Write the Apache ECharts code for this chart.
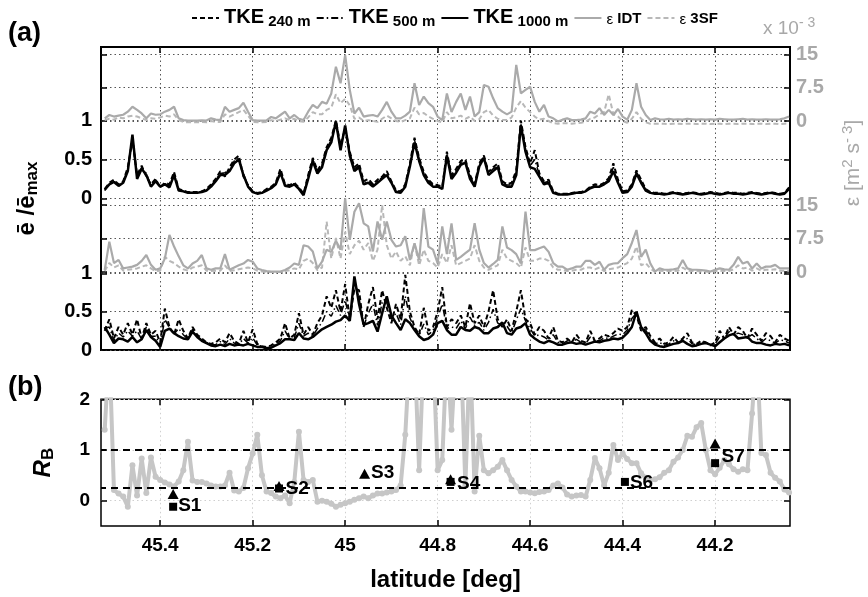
<!DOCTYPE html>
<html><head><meta charset="utf-8">
<script src="https://cdn.jsdelivr.net/npm/echarts@6/dist/echarts.min.js"></script>
<style>html,body{margin:0;padding:0;background:#fff}#c{width:868px;height:597px}</style>
</head><body><div id="c"></div>
<script>
// ---------- DATA ----------
const lat = [
45.52,45.51,45.50,45.49,45.48,45.47,45.46,45.45,45.44,45.43,
45.42,45.41,45.40,45.39,45.38,45.37,45.36,45.35,45.34,45.33,
45.32,45.31,45.30,45.29,45.28,45.27,45.26,45.25,45.24,45.23,
45.22,45.21,45.20,45.19,45.18,45.17,45.16,45.15,45.14,45.13,
45.12,45.11,45.10,45.09,45.08,45.07,45.06,45.05,45.04,45.03,
45.02,45.01,45.00,44.99,44.98,44.97,44.96,44.95,44.94,44.93,
44.92,44.91,44.90,44.89,44.88,44.87,44.86,44.85,44.84,44.83,
44.82,44.81,44.80,44.79,44.78,44.77,44.76,44.75,44.74,44.73,
44.72,44.71,44.70,44.69,44.68,44.67,44.66,44.65,44.64,44.63,
44.62,44.61,44.60,44.59,44.58,44.57,44.56,44.55,44.54,44.53,
44.52,44.51,44.50,44.49,44.48,44.47,44.46,44.45,44.44,44.43,
44.42,44.41,44.40,44.39,44.38,44.37,44.36,44.35,44.34,44.33,
44.32,44.31,44.30,44.29,44.28,44.27,44.26,44.25,44.24,44.23,
44.22,44.21,44.20,44.19,44.18,44.17,44.16,44.15,44.14,44.13,
44.12,44.11,44.10,44.09,44.08,44.07,44.06,44.05,44.04];

const latTicks = [45.4, 45.2, 45, 44.8, 44.6, 44.4, 44.2];
const tkeTicks = [0, 0.5, 1];
const epsTicks = [0, 7.5, 15];
const rbTicks = [0, 1, 2];
const rbThresholds = [1, 0.25];

// upper transect: normalised TKE
const tkeUp240 = [
0.12,0.20,0.24,0.18,0.22,0.40,0.75,0.30,0.42,0.28,
0.18,0.25,0.14,0.20,0.18,0.34,0.12,0.10,0.08,0.08,
0.08,0.09,0.12,0.18,0.25,0.35,0.28,0.40,0.50,0.55,
0.28,0.17,0.09,0.07,0.08,0.12,0.15,0.20,0.38,0.18,
0.17,0.20,0.14,0.06,0.30,0.52,0.36,0.45,0.66,0.78,
1.00,0.68,0.90,0.60,0.40,0.45,0.22,0.25,0.18,0.24,
0.28,0.35,0.22,0.10,0.09,0.18,0.45,0.78,0.52,0.34,
0.24,0.18,0.17,0.15,0.60,0.30,0.38,0.48,0.50,0.30,
0.18,0.45,0.55,0.34,0.40,0.45,0.22,0.18,0.20,0.36,
1.00,0.66,0.45,0.62,0.32,0.22,0.24,0.09,0.06,0.06,
0.06,0.07,0.08,0.08,0.10,0.15,0.18,0.17,0.20,0.26,
0.45,0.24,0.09,0.10,0.18,0.36,0.24,0.12,0.08,0.07,
0.07,0.06,0.07,0.08,0.07,0.06,0.07,0.08,0.07,0.06,
0.07,0.08,0.07,0.06,0.07,0.08,0.07,0.07,0.06,0.07,
0.08,0.07,0.06,0.07,0.08,0.07,0.06,0.07,0.14];
const tkeUp500 = [
0.10,0.19,0.22,0.17,0.21,0.38,0.78,0.28,0.40,0.32,
0.16,0.24,0.16,0.19,0.16,0.32,0.11,0.10,0.08,0.07,
0.08,0.08,0.11,0.16,0.24,0.32,0.33,0.37,0.48,0.52,
0.32,0.16,0.09,0.06,0.07,0.11,0.14,0.19,0.35,0.17,
0.16,0.19,0.13,0.05,0.28,0.50,0.34,0.43,0.64,0.75,
0.97,0.65,0.92,0.58,0.38,0.42,0.20,0.22,0.17,0.22,
0.27,0.32,0.21,0.09,0.08,0.16,0.43,0.75,0.50,0.32,
0.22,0.17,0.16,0.13,0.58,0.28,0.36,0.45,0.48,0.28,
0.17,0.43,0.54,0.32,0.38,0.42,0.20,0.17,0.17,0.33,
0.97,0.63,0.42,0.50,0.30,0.20,0.22,0.08,0.06,0.05,
0.06,0.06,0.07,0.08,0.09,0.14,0.16,0.16,0.19,0.24,
0.40,0.22,0.08,0.09,0.16,0.34,0.22,0.11,0.08,0.06,
0.06,0.06,0.06,0.07,0.06,0.06,0.06,0.07,0.06,0.06,
0.06,0.07,0.06,0.06,0.06,0.07,0.06,0.06,0.06,0.06,
0.07,0.06,0.06,0.06,0.07,0.06,0.06,0.06,0.13];
const tkeUp1000 = [
0.11,0.18,0.21,0.16,0.20,0.35,0.82,0.25,0.38,0.30,
0.15,0.22,0.15,0.18,0.14,0.30,0.10,0.09,0.07,0.07,
0.07,0.08,0.10,0.15,0.22,0.30,0.30,0.35,0.45,0.50,
0.30,0.15,0.08,0.06,0.07,0.10,0.13,0.18,0.33,0.16,
0.15,0.18,0.12,0.04,0.25,0.48,0.32,0.40,0.62,0.72,
0.99,0.62,0.94,0.55,0.35,0.40,0.18,0.20,0.15,0.20,
0.25,0.30,0.20,0.08,0.07,0.15,0.41,0.72,0.48,0.30,
0.20,0.15,0.15,0.12,0.55,0.25,0.33,0.43,0.46,0.25,
0.15,0.41,0.52,0.30,0.35,0.40,0.18,0.15,0.15,0.30,
0.94,0.60,0.40,0.38,0.28,0.18,0.20,0.07,0.05,0.05,
0.05,0.06,0.07,0.07,0.09,0.13,0.15,0.15,0.18,0.22,
0.35,0.20,0.07,0.08,0.15,0.32,0.20,0.10,0.07,0.06,
0.06,0.05,0.06,0.07,0.06,0.05,0.06,0.07,0.06,0.05,
0.06,0.07,0.06,0.05,0.06,0.07,0.06,0.06,0.05,0.06,
0.07,0.06,0.05,0.06,0.07,0.06,0.05,0.06,0.12];
// upper transect: dissipation rate (x 1e-3 m^2 s^-3)
const epsIdtUp = [
0.6,1.35,1.0,1.2,1.4,2.1,3.2,2.5,1.7,0.6,
1.7,1.4,1.5,2.1,2.5,3.2,0.6,0.2,0.1,0.1,
0.1,0.15,0.1,0.6,0.3,0.2,3.2,2.1,2.5,2.9,
4.1,2.1,0.2,0.1,0.1,0.15,0.9,0.6,1.35,2.1,
0.6,1.35,0.5,0.22,2.1,3.6,2.9,4.3,3.9,6.2,
12.2,8.5,14.8,7.0,1.7,3.0,1.0,1.2,1.35,1.0,
2.5,4.3,2.1,0.6,0.6,1.2,2.1,8.5,3.6,5.5,
4.0,3.2,1.0,0.22,6.2,2.0,4.3,6.2,2.5,5.5,
1.0,2.0,8.1,7.7,5.1,2.9,2.1,1.5,2.1,12.6,
6.2,7.0,7.7,4.3,2.1,3.6,1.0,0.6,-0.1,0.3,
0.6,0.2,0.2,0.3,0.6,2.1,1.7,2.9,1.35,2.5,
1.35,2.7,1.0,0.3,2.5,8.5,3.2,1.35,0.2,0.6,
0.4,0.3,0.5,0.3,0.4,0.3,0.5,0.4,0.3,0.4,
0.3,0.4,0.3,0.5,0.4,0.3,0.3,0.4,0.5,0.3,
0.4,0.3,0.3,0.4,0.3,0.3,0.4,0.6,1.0];
const eps3sfUp = [
0.2,0.5,0.3,0.8,0.6,1.0,1.2,1.0,0.6,0.2,
0.6,0.5,0.8,1.2,1.0,1.5,0.2,-0.2,-0.3,-0.3,
-0.3,-0.2,-0.3,0.0,-0.2,-0.2,1.5,1.0,1.5,2.0,
2.5,1.2,-0.2,-0.3,-0.3,-0.2,0.2,0.0,0.3,0.6,
0.2,0.5,0.0,-0.2,0.8,2.0,1.5,1.5,2.5,3.0,
6.0,4.0,5.0,3.5,0.5,0.8,0.0,0.2,0.0,-0.2,
0.5,1.2,0.6,0.0,-0.2,0.2,0.6,3.0,1.5,1.8,
1.0,0.5,0.0,-0.3,2.0,0.6,0.8,1.2,0.5,1.0,
0.0,0.4,2.0,2.5,1.2,0.5,0.3,0.2,0.8,3.0,
4.5,3.0,2.0,1.0,0.3,0.5,0.0,-0.5,-0.6,-0.5,
-0.5,-0.6,-0.5,-0.4,-0.2,0.5,0.8,1.5,2.0,6.0,
1.5,1.0,0.0,-0.4,0.5,2.0,0.5,-0.3,-0.6,-0.6,
-0.6,-0.6,-0.7,-0.6,-0.6,-0.7,-0.6,-0.6,-0.7,-0.6,
-0.6,-0.7,-0.6,-0.6,-0.7,-0.6,-0.6,-0.7,-0.6,-0.6,
-0.7,-0.6,-0.6,-0.7,-0.6,-0.6,-0.7,-0.6,-0.5];

// lower transect: normalised TKE
const tkeLo240 = [
0.25,0.40,0.15,0.30,0.20,0.35,0.20,0.40,0.15,0.35,
0.20,0.25,0.10,0.54,0.30,0.20,0.40,0.25,0.15,0.30,
0.20,0.15,0.10,0.08,0.10,0.15,0.10,0.22,0.12,0.08,
0.25,0.10,0.27,0.08,0.05,0.04,0.06,0.10,0.15,0.35,
0.15,0.20,0.48,0.20,0.30,0.20,0.35,0.45,0.70,0.55,
0.78,0.50,0.86,0.40,0.80,0.78,0.30,0.60,0.82,0.40,
0.78,0.55,0.35,0.60,0.40,0.98,0.50,0.30,0.20,0.55,
0.25,0.30,0.50,0.82,0.30,0.40,0.35,0.45,0.30,0.61,
0.35,0.45,0.30,0.50,0.78,0.40,0.30,0.40,0.25,0.50,
0.78,0.40,0.35,0.20,0.30,0.25,0.15,0.30,0.12,0.10,
0.15,0.10,0.20,0.12,0.10,0.25,0.12,0.15,0.20,0.18,
0.22,0.28,0.25,0.30,0.52,0.45,0.25,0.30,0.18,0.10,
0.15,0.08,0.10,0.17,0.10,0.15,0.22,0.10,0.08,0.12,
0.10,0.06,0.10,0.25,0.15,0.30,0.20,0.30,0.25,0.15,
0.28,0.20,0.12,0.22,0.18,0.10,0.20,0.15,0.12];
const tkeLo500 = [
0.28,0.30,0.12,0.22,0.17,0.25,0.18,0.25,0.14,0.30,
0.18,0.18,0.07,0.40,0.29,0.21,0.28,0.20,0.14,0.27,
0.18,0.13,0.10,0.07,0.07,0.11,0.07,0.15,0.09,0.07,
0.15,0.09,0.16,0.06,0.05,0.03,0.04,0.08,0.12,0.25,
0.14,0.16,0.35,0.18,0.22,0.18,0.28,0.36,0.50,0.44,
0.58,0.45,0.65,0.39,0.88,0.68,0.31,0.48,0.60,0.32,
0.62,0.62,0.40,0.48,0.33,0.70,0.42,0.28,0.19,0.34,
0.20,0.25,0.42,0.60,0.28,0.30,0.28,0.38,0.28,0.43,
0.32,0.36,0.26,0.36,0.53,0.35,0.33,0.31,0.22,0.39,
0.54,0.38,0.28,0.18,0.20,0.17,0.13,0.20,0.10,0.08,
0.12,0.10,0.14,0.10,0.08,0.17,0.12,0.12,0.16,0.15,
0.18,0.21,0.20,0.26,0.41,0.48,0.28,0.26,0.15,0.08,
0.10,0.06,0.08,0.12,0.10,0.13,0.15,0.08,0.07,0.10,
0.10,0.07,0.08,0.17,0.15,0.24,0.20,0.22,0.20,0.16,
0.20,0.15,0.10,0.15,0.12,0.09,0.13,0.12,0.09];
const tkeLo1000 = [
0.30,0.20,0.09,0.15,0.14,0.11,0.17,0.10,0.14,0.26,
0.17,0.12,0.04,0.25,0.28,0.22,0.18,0.15,0.14,0.24,
0.17,0.12,0.09,0.06,0.05,0.07,0.05,0.08,0.06,0.07,
0.06,0.08,0.06,0.04,0.04,0.02,0.03,0.06,0.09,0.14,
0.14,0.13,0.22,0.15,0.14,0.17,0.22,0.27,0.30,0.33,
0.37,0.39,0.45,0.38,0.96,0.60,0.33,0.35,0.38,0.24,
0.48,0.70,0.45,0.35,0.26,0.40,0.35,0.26,0.18,0.13,
0.15,0.20,0.35,0.38,0.26,0.20,0.20,0.30,0.26,0.25,
0.30,0.28,0.22,0.22,0.28,0.30,0.36,0.22,0.20,0.28,
0.30,0.35,0.20,0.15,0.11,0.09,0.12,0.10,0.07,0.07,
0.09,0.10,0.08,0.09,0.07,0.09,0.11,0.10,0.12,0.13,
0.15,0.14,0.16,0.22,0.30,0.50,0.30,0.22,0.12,0.07,
0.05,0.04,0.06,0.08,0.09,0.12,0.08,0.05,0.06,0.08,
0.09,0.07,0.05,0.10,0.15,0.19,0.21,0.15,0.16,0.17,
0.11,0.09,0.09,0.07,0.06,0.08,0.07,0.08,0.06];
// lower transect: dissipation rate (x 1e-3 m^2 s^-3)
const epsIdtLo = [
0.45,6.8,2.0,2.7,0.8,1.0,1.2,1.6,2.5,3.8,
1.6,0.5,0.8,3.0,8.3,5.7,3.5,1.5,0.8,1.9,
2.5,3.8,0.8,0.5,0.8,0.8,4.0,0.5,1.0,1.5,
1.9,2.7,2.3,0.8,0.45,0.2,0.1,0.1,0.1,0.45,
1.0,1.9,1.6,6.0,5.7,4.6,0.8,2.3,5.0,4.5,
7.0,5.0,16.5,7.2,13.5,15.4,10.9,10.2,4.6,11.3,
7.2,11.3,7.2,5.7,6.0,8.0,2.7,6.4,2.7,14.3,
5.7,5.0,1.9,10.2,4.0,10.9,2.7,3.4,4.2,5.0,
10.9,5.0,2.0,1.0,1.8,2.7,10.2,5.5,4.9,4.0,
1.9,13.5,4.9,4.9,5.3,5.7,4.5,2.0,1.2,1.2,
0.5,0.8,1.2,1.2,2.5,2.5,1.6,2.3,0.5,1.6,
1.9,2.0,3.1,4.0,6.5,9.4,3.4,5.0,1.9,0.1,
0.8,0.5,0.5,0.6,0.8,2.7,0.8,0.5,0.5,0.4,
0.3,0.1,0.5,0.8,0.6,0.5,1.6,3.4,1.9,2.3,
0.8,1.9,0.8,1.2,1.2,1.6,0.8,0.8,0.8];
const eps3sfLo = [
0.2,2.0,1.0,1.5,0.3,0.5,0.6,0.8,1.2,1.5,
0.8,0.2,0.3,3.4,2.5,2.0,1.2,0.6,0.3,1.0,
1.2,1.5,0.3,0.2,0.3,0.3,1.5,0.2,0.4,0.6,
0.8,1.0,0.8,0.3,0.1,0.0,0.0,0.0,0.0,0.2,
0.4,0.8,0.6,2.5,3.0,2.0,0.4,1.0,11.3,3.0,
7.6,3.0,9.0,4.0,6.0,7.0,5.0,6.5,2.5,5.0,
15.0,6.0,3.0,4.6,2.5,3.5,1.5,6.4,1.5,5.0,
2.5,2.0,1.0,4.0,2.0,6.0,1.5,2.0,2.5,3.0,
6.0,2.5,1.0,0.5,1.0,1.5,5.0,3.0,2.5,2.0,
1.0,5.5,2.5,2.5,3.0,3.0,2.5,1.0,0.5,0.5,
0.2,0.3,0.5,0.5,1.0,1.0,0.6,1.0,0.2,0.6,
0.8,1.0,1.5,2.0,3.0,5.7,1.5,2.0,0.8,0.0,
0.3,0.2,0.2,0.2,0.3,1.0,0.3,0.2,0.2,0.1,
0.1,0.0,0.2,0.3,0.2,0.2,0.6,1.5,0.8,1.0,
0.3,0.8,0.3,0.5,0.5,0.6,0.3,0.3,0.3];

// panel (b): bulk Richardson number
const rb = [
1.4,3.0,0.21,0.14,0.08,-0.12,0.7,0.1,0.83,0.15,
0.85,0.47,0.41,0.36,0.32,0.28,0.38,0.6,1.16,0.4,
0.37,0.37,0.34,0.3,0.28,0.28,0.3,0.55,0.2,0.18,
0.25,0.64,0.93,1.3,0.5,0.18,0.15,0.08,0.05,0.1,
-0.05,0.37,1.36,0.41,0.37,0.41,-0.02,0.0,-0.02,-0.06,
-0.12,-0.08,-0.05,-0.02,0.02,0.05,0.08,0.05,0.1,0.14,
0.14,0.16,0.18,0.21,0.3,1.3,3.0,3.0,0.6,3.0,
3.0,3.0,0.6,0.8,3.0,1.4,3.0,3.0,0.3,3.0,
0.18,1.28,0.6,0.54,0.6,0.67,0.8,0.6,0.41,0.28,
0.18,0.18,0.16,0.145,0.17,0.18,0.21,0.3,0.34,0.26,
0.12,0.08,0.1,0.11,0.08,0.41,0.84,0.64,0.3,0.55,
1.1,0.8,0.93,0.82,0.74,0.74,0.54,0.45,0.41,0.42,
0.46,0.55,0.6,0.77,0.85,1.0,1.28,1.26,1.45,1.53,
1.0,0.6,0.52,0.65,0.8,0.72,0.62,0.57,0.62,0.6,
1.72,3.0,0.94,0.9,0.55,0.45,0.38,0.22,0.16];

// stations
const siteNames = ['S1','S2','S3','S4','S6','S7'];
const siteLat   = [45.372, 45.143, 44.958, 44.772, 44.395, 44.200];
const siteTri   = [0.13, 0.29, 0.53, 0.42, null, 1.13];
const siteSq    = [-0.12, 0.24, null, 0.37, 0.37, 0.74];

// ---------- CHART ----------
const FONT = '"Liberation Sans", Arial, Helvetica, sans-serif';
const xMin = 44.038, xMax = 45.528;
const L = 101, R = 78;
const chart = echarts.init(document.getElementById('c'));

const tick = (vals) => ({show:true, inside:true, length:6, lineStyle:{color:'#000', width:1.5}, customValues: vals});
const dotGrid = {show:true, lineStyle:{color:'#555', type:[1.5,3], width:1}};
const lightGrid = {show:true, lineStyle:{color:'#cfcfcf', type:[1.5,3], width:1}};
const tkeLabel = {show:true, customValues: tkeTicks, fontSize:20, fontWeight:'bold', color:'#000', fontFamily:FONT, margin:9};
const epsLabel = {show:true, customValues: epsTicks, fontSize:20, fontWeight:'bold', color:'#a8a8a8', fontFamily:FONT, margin:6};

function xAx(gi, extra) {
  return Object.assign({type:'value', gridIndex:gi, min:xMin, max:xMax, inverse:true,
    axisLine:{show:false, onZero:false}, axisLabel:{show:false}, axisTick:{show:false}, splitLine:{show:false}}, extra);
}
function yAx(gi, pos, extra) {
  return Object.assign({type:'value', gridIndex:gi, position:pos,
    axisLine:{show:false, onZero:false}, axisLabel:{show:false}, axisTick:{show:false}, splitLine:{show:false}}, extra);
}
const pair = (arr) => lat.map((x, i) => [x, arr[i]]);

const blk = '#000', gry = '#aaaaaa', gry2 = '#b8b8b8';
const styles = {
  'TKE 240 m':  {color:blk, width:2,   type:[5,3]},
  'TKE 500 m':  {color:blk, width:1.5, type:[7,3,1.5,3]},
  'TKE 1000 m': {color:blk, width:2.5, type:'solid'},
  'ε IDT':      {color:gry, width:2.2, type:'solid'},
  'ε 3SF':      {color:gry2, width:2,  type:[5,3]}
};
function line(name, arr, xi, yi, z) {
  const s = styles[name];
  return {type:'line', name, xAxisIndex:xi, yAxisIndex:yi, data:pair(arr), symbol:'none',
    clip:false, z, lineStyle:{color:s.color, width:s.width, type:s.type}, itemStyle:{color:s.color},
    emphasis:{disabled:true}};
}

const series = [
  line('ε 3SF', eps3sfUp, 2, 1, 2), line('ε IDT', epsIdtUp, 2, 1, 3),
  line('TKE 240 m', tkeUp240, 3, 3, 4), line('TKE 500 m', tkeUp500, 3, 3, 5), line('TKE 1000 m', tkeUp1000, 3, 3, 6),
  line('ε 3SF', eps3sfLo, 4, 5, 2), line('ε IDT', epsIdtLo, 4, 5, 3),
  line('TKE 240 m', tkeLo240, 5, 7, 4), line('TKE 500 m', tkeLo500, 5, 7, 5), line('TKE 1000 m', tkeLo1000, 5, 7, 6),
  {type:'line', name:'RB', xAxisIndex:6, yAxisIndex:9, data:pair(rb), symbol:'circle', symbolSize:6,
   showAllSymbol:true, clip:true, lineStyle:{color:'#c6c6c6', width:4}, itemStyle:{color:'#c6c6c6'},
   emphasis:{disabled:true}, z:2,
   markLine:{silent:true, symbol:['none','none'], label:{show:false}, z:5,
     lineStyle:{color:'#000', type:[7,5], width:2},
     data: rbThresholds.map(v => ({yAxis:v}))}}
];

const lblBase = {show:true, position:'right', distance:1, fontSize:19, fontWeight:'bold', color:'#000', fontFamily:FONT, opacity:1};
const labelOnTri = {S2:[0,3], S3:[0,-1], S4:[0,4], S7:[0,13]};
const labelOnSq = {S1:[0,-1], S6:[0,1]};
series.push({type:'scatter', name:'sq', xAxisIndex:6, yAxisIndex:9, symbol:'rect', symbolSize:8, z:8,
  itemStyle:{color:'#000', opacity:1}, emphasis:{disabled:true},
  data: siteLat.map((x,i) => siteSq[i]==null ? null : ({value:[x, siteSq[i]],
    label: labelOnSq[siteNames[i]] ? Object.assign({}, lblBase, {formatter:siteNames[i], offset:labelOnSq[siteNames[i]]}) : {show:false}})).filter(d=>d)});
series.push({type:'scatter', name:'tri', xAxisIndex:6, yAxisIndex:9, symbol:'triangle', symbolSize:[11,10], z:9,
  itemStyle:{color:'#000', opacity:1}, emphasis:{disabled:true},
  data: siteLat.map((x,i) => siteTri[i]==null ? null : ({value:[x, siteTri[i]],
    label: labelOnTri[siteNames[i]] ? Object.assign({}, lblBase, {formatter:siteNames[i], offset:labelOnTri[siteNames[i]]}) : {show:false}})).filter(d=>d)});

const option = {
  animation:false,
  backgroundColor:'#fff',
  textStyle:{fontFamily:FONT},
  legend:{
    top:2, left:186, itemWidth:27, itemHeight:14, itemGap:5, selectedMode:false,
    itemStyle:{opacity:0},
    data:['TKE 240 m','TKE 500 m','TKE 1000 m','ε IDT','ε 3SF'],
    formatter: n => { const p = n.split(' '); const sub = p.slice(1).join(' ');
      return p[0]==='TKE' ? '{t|TKE}{s| ' + sub + '}' : '{e|ε}{s| ' + sub + '}'; },
    textStyle:{rich:{
      t:{fontSize:20, fontWeight:'bold', color:'#000', fontFamily:FONT, lineHeight:22, verticalAlign:'top', padding:[0,0,12,0]},
      e:{fontSize:15, color:'#000', fontFamily:FONT, lineHeight:16, verticalAlign:'top', padding:[2,0,0,0]},
      s:{fontSize:15, fontWeight:'bold', color:'#000', fontFamily:FONT, lineHeight:16, verticalAlign:'bottom'}
    }}
  },
  grid:[
    {left:L, right:R, top:47, height:303, show:true, borderColor:'#000', borderWidth:2},
    {left:L, right:R, top:54.3, height:66.7},
    {left:L, right:R, top:120.7, height:77.6},
    {left:L, right:R, top:205, height:67},
    {left:L, right:R, top:273.3, height:76.7},
    {left:L, right:R, top:399.3, height:126.7, show:true, borderColor:'#000', borderWidth:1.5}
  ],
  xAxis:[
    xAx(0, {axisTick:tick(latTicks), splitLine:dotGrid}),
    xAx(0, {position:'top', axisTick:tick(latTicks)}),
    xAx(1, {show:false}), xAx(2, {show:false}), xAx(3, {show:false}), xAx(4, {show:false}),
    xAx(5, {axisTick:tick(latTicks), splitLine:lightGrid,
      axisLabel:{show:true, customValues:latTicks, fontSize:19, fontWeight:'bold', color:'#000', fontFamily:FONT, margin:10},
      name:'latitude [deg]', nameLocation:'middle', nameGap:42,
      nameTextStyle:{fontSize:24, fontWeight:'bold', color:'#000', fontFamily:FONT}}),
    xAx(5, {position:'top', axisTick:tick(latTicks)})
  ],
  yAxis:[
    yAx(0, 'left', {min:0, max:1, name:'{a|ē /ē}{b|max}', nameLocation:'middle', nameGap:60, nameRotate:90,
      nameTextStyle:{rich:{
        a:{fontSize:24, fontWeight:'bold', color:'#000', fontFamily:FONT, lineHeight:26, verticalAlign:'top', padding:[0,0,8,0]},
        b:{fontSize:17, fontWeight:'bold', color:'#000', fontFamily:FONT, lineHeight:18, verticalAlign:'bottom'}}}}),
    yAx(1, 'right', {min:0, max:15, interval:7.5, axisLabel:epsLabel, axisTick:tick(epsTicks), splitLine:dotGrid}),
    yAx(1, 'left',  {min:0, max:15, interval:7.5, axisTick:tick(epsTicks)}),
    yAx(2, 'left',  {min:0, max:1, interval:0.5, axisLabel:tkeLabel, axisTick:tick(tkeTicks), splitLine:dotGrid}),
    yAx(2, 'right', {min:0, max:1, interval:0.5, axisTick:tick(tkeTicks)}),
    yAx(3, 'right', {min:0, max:15, interval:7.5, axisLabel:epsLabel, axisTick:tick(epsTicks), splitLine:dotGrid}),
    yAx(3, 'left',  {min:0, max:15, interval:7.5, axisTick:tick(epsTicks)}),
    yAx(4, 'left',  {min:0, max:1, interval:0.5, axisLabel:tkeLabel, axisTick:tick(tkeTicks), splitLine:dotGrid}),
    yAx(4, 'right', {min:0, max:1, interval:0.5, axisTick:tick(tkeTicks)}),
    yAx(5, 'left',  {min:-0.5, max:2, axisTick:tick(rbTicks), splitLine:lightGrid,
      axisLabel:{show:true, customValues:rbTicks, fontSize:19, fontWeight:'bold', color:'#000', fontFamily:FONT, margin:11},
      name:'{r|R}{b|B}', nameLocation:'middle', nameGap:44, nameRotate:90,
      nameTextStyle:{rich:{
        r:{fontSize:24, fontWeight:'bold', fontStyle:'italic', color:'#000', fontFamily:FONT, lineHeight:26, verticalAlign:'top', padding:[0,0,8,0]},
        b:{fontSize:17, fontWeight:'bold', color:'#000', fontFamily:FONT, lineHeight:18, verticalAlign:'bottom'}}}}),
    yAx(5, 'right', {min:-0.5, max:2, axisTick:tick(rbTicks)})
  ],
  graphic:[
    {type:'text', left:8, top:20, style:{text:'(a)', font:'bold 27px ' + FONT, fill:'#000'}},
    {type:'text', left:8, top:374, style:{text:'(b)', font:'bold 27px ' + FONT, fill:'#000'}},
    {type:'text', left:763, top:16, style:{text:'{a|x 10}{p|- 3}', rich:{
      a:{fontSize:19, fill:'#a8a8a8', fontFamily:FONT, lineHeight:22, verticalAlign:'bottom'},
      p:{fontSize:14, fill:'#a8a8a8', fontFamily:FONT, lineHeight:14, verticalAlign:'top'}}}},
    {type:'text', x:852, y:163, rotation:Math.PI/2, style:{text:'{n|ε [m}{p|2}{n| s}{p|- 3}{n|]}',
      align:'center', verticalAlign:'middle', rich:{
      n:{fontSize:21, fill:'#a8a8a8', fontFamily:FONT, lineHeight:24, verticalAlign:'bottom'},
      p:{fontSize:15, fill:'#a8a8a8', fontFamily:FONT, lineHeight:15, verticalAlign:'top'}}}}
  ],
  series
};
chart.setOption(option);
</script>
</body></html>
